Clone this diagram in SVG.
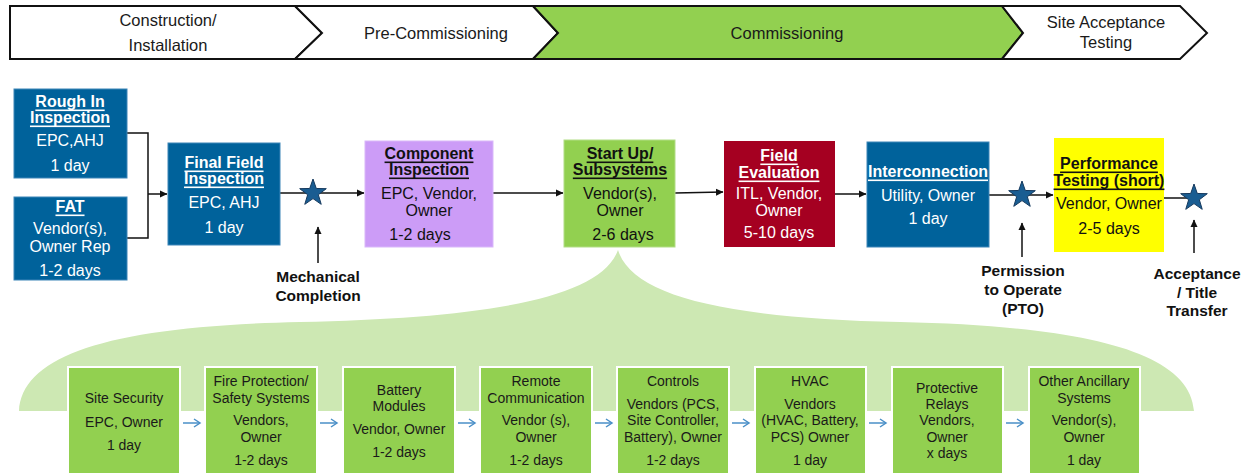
<svg xmlns="http://www.w3.org/2000/svg" width="1252" height="473" viewBox="0 0 1252 473">
<style>
text{font-family:"Liberation Sans",Arial,sans-serif;text-anchor:middle;dominant-baseline:central}
.ban{font-size:16.5px;fill:#1a1a1a}
.t{font-size:16px;font-weight:bold;text-decoration:underline}
.b{font-size:16px}
.w{fill:#ffffff}
.k{fill:#111111}
.ann{font-size:15.5px;font-weight:bold;fill:#111111}
.sm{font-size:14px;fill:#1a1a1a}
.conn{stroke:#111111;stroke-width:1.5;fill:none}
.sub{stroke:#4a8fc7;stroke-width:1.5;fill:none}
.sb{fill:#92d050;stroke:#ffffff;stroke-width:2}
</style>
<defs>
<marker id="ah" markerWidth="8" markerHeight="8" refX="7" refY="4" orient="auto" markerUnits="userSpaceOnUse">
<path d="M0,0.5 L7.5,4 L0,7.5 Z" fill="#111111"/>
</marker>
<marker id="oh" markerWidth="10" markerHeight="10" refX="7" refY="5" orient="auto" markerUnits="userSpaceOnUse">
<path d="M1,1 L7,5 L1,9" fill="none" stroke="#4a8fc7" stroke-width="1.5"/>
</marker>
<polygon id="star" points="0,-14 3.29,-4.53 13.31,-4.33 5.33,1.73 8.23,11.33 0,5.6 -8.23,11.33 -5.33,1.73 -13.31,-4.33 -3.29,-4.53" fill="#1a5d92" stroke="#163a5e" stroke-width="1"/>
</defs>

<g id="banner" stroke="#111111" stroke-width="2" stroke-linejoin="miter">
<polygon points="10,6 295,6 322,33 295,59 10,59" fill="#ffffff"/>
<polygon points="295,6 533,6 558,33 533,59 295,59 322,33" fill="#ffffff"/>
<polygon points="533,6 1002,6 1023,33 1002,59 533,59 558,33" fill="#92d050"/>
<polygon points="1002,6 1180,6 1207,33 1180,59 1002,59 1023,33" fill="#ffffff"/>
</g>
<g id="banner-text">
<text class="ban" x="168" y="20">Construction/</text>
<text class="ban" x="168" y="45">Installation</text>
<text class="ban" x="436" y="33">Pre-Commissioning</text>
<text class="ban" x="787" y="33">Commissioning</text>
<text class="ban" x="1106" y="22">Site Acceptance</text>
<text class="ban" x="1106" y="42">Testing</text>
</g>

<path id="lobe" d="M 19 411 C 22 355, 110 326, 300 322 C 480 318, 600 300, 618 250 C 632 295, 720 318, 900 322 C 1080 326, 1190 350, 1194 411 Z" fill="#cde8b3"/>

<g id="connectors">
<polyline class="conn" points="127,133 148,133 148,238 127,238"/>
<line class="conn" x1="148" y1="194" x2="167" y2="194" marker-end="url(#ah)"/>
<line class="conn" x1="280" y1="193" x2="364" y2="193" marker-end="url(#ah)"/>
<line class="conn" x1="493" y1="193" x2="563" y2="193" marker-end="url(#ah)"/>
<line class="conn" x1="675" y1="193" x2="723" y2="192" marker-end="url(#ah)"/>
<line class="conn" x1="835" y1="194" x2="866" y2="194" marker-end="url(#ah)"/>
<line class="conn" x1="989" y1="195" x2="1053" y2="195" marker-end="url(#ah)"/>
<line class="conn" x1="1164" y1="198" x2="1194" y2="198"/>
<line class="conn" x1="318" y1="263" x2="318" y2="227" marker-end="url(#ah)"/>
<line class="conn" x1="1022" y1="257" x2="1022" y2="223" marker-end="url(#ah)"/>
<line class="conn" x1="1194" y1="253" x2="1194" y2="220" marker-end="url(#ah)"/>
<line class="sub" x1="183" y1="423" x2="200" y2="423" marker-end="url(#oh)"/>
<line class="sub" x1="320" y1="423" x2="337" y2="423" marker-end="url(#oh)"/>
<line class="sub" x1="458" y1="423" x2="475" y2="423" marker-end="url(#oh)"/>
<line class="sub" x1="595" y1="423" x2="612" y2="423" marker-end="url(#oh)"/>
<line class="sub" x1="732" y1="423" x2="749" y2="423" marker-end="url(#oh)"/>
<line class="sub" x1="869" y1="423" x2="886" y2="423" marker-end="url(#oh)"/>
<line class="sub" x1="1006" y1="423" x2="1023" y2="423" marker-end="url(#oh)"/>
</g>

<g id="rough-in">
<rect x="14" y="89" width="113" height="89" fill="#00629b" stroke="#3c85b8" stroke-width="1"/>
<text class="t w" x="70" y="101">Rough In</text>
<text class="t w" x="70" y="117">Inspection</text>
<text class="b w" x="70" y="140">EPC,AHJ</text>
<text class="b w" x="70" y="165">1 day</text>
</g>
<g id="fat">
<rect x="14" y="197" width="113" height="83" fill="#00629b" stroke="#3c85b8" stroke-width="1"/>
<text class="t w" x="70" y="206">FAT</text>
<text class="b w" x="70" y="228">Vendor(s),</text>
<text class="b w" x="70" y="246">Owner Rep</text>
<text class="b w" x="70" y="270">1-2 days</text>
</g>
<g id="final-field">
<rect x="168" y="143" width="112" height="102" fill="#00629b" stroke="#3c85b8" stroke-width="1"/>
<text class="t w" x="224" y="162">Final Field</text>
<text class="t w" x="224" y="178">Inspection</text>
<text class="b w" x="224" y="202">EPC, AHJ</text>
<text class="b w" x="224" y="227">1 day</text>
</g>
<g id="mech-star"><use href="#star" x="313" y="193"/></g>
<g id="mech-label">
<text class="ann" x="318" y="276">Mechanical</text>
<text class="ann" x="318" y="295">Completion</text>
</g>
<g id="component">
<rect x="365" y="141" width="128" height="106" fill="#cc9cf7" stroke="#d9b8fa" stroke-width="1"/>
<text class="t k" x="429" y="153">Component</text>
<text class="t k" x="429" y="169">Inspection</text>
<text class="b k" x="429" y="193">EPC, Vendor,</text>
<text class="b k" x="429" y="210">Owner</text>
<text class="b k" x="420" y="234">1-2 days</text>
</g>
<g id="startup">
<rect x="564" y="140" width="111" height="107" fill="#92d050" stroke="#b2dd86" stroke-width="1"/>
<text class="t k" x="620" y="153">Start Up/</text>
<text class="t k" x="620" y="169">Subsystems</text>
<text class="b k" x="620" y="193">Vendor(s),</text>
<text class="b k" x="620" y="210">Owner</text>
<text class="b k" x="623" y="234">2-6 days</text>
</g>
<g id="field-eval">
<rect x="724" y="141" width="111" height="106" fill="#a50021"/>
<text class="t w" x="779" y="155">Field</text>
<text class="t w" x="779" y="172">Evaluation</text>
<text class="b w" x="779" y="193">ITL, Vendor,</text>
<text class="b w" x="779" y="210">Owner</text>
<text class="b w" x="779" y="232">5-10 days</text>
</g>
<g id="interconnection">
<rect x="867" y="142" width="122" height="105" fill="#00629b" stroke="#3c85b8" stroke-width="1"/>
<text class="t w" x="928" y="171">Interconnection</text>
<text class="b w" x="928" y="195">Utility, Owner</text>
<text class="b w" x="928" y="218">1 day</text>
</g>
<g id="pto-star"><use href="#star" x="1022" y="195"/></g>
<g id="pto-label">
<text class="ann" x="1023" y="270">Permission</text>
<text class="ann" x="1023" y="289">to Operate</text>
<text class="ann" x="1023" y="308">(PTO)</text>
</g>
<g id="performance">
<rect x="1054" y="138" width="110" height="114" fill="#ffff00"/>
<text class="t k" x="1109" y="163">Performance</text>
<text class="t k" x="1109" y="180">Testing (short)</text>
<text class="b k" x="1109" y="203">Vendor, Owner</text>
<text class="b k" x="1109" y="228">2-5 days</text>
</g>
<g id="accept-star"><use href="#star" x="1194" y="198"/></g>
<g id="accept-label">
<text class="ann" x="1197" y="273">Acceptance</text>
<text class="ann" x="1197" y="292">/ Title</text>
<text class="ann" x="1197" y="310">Transfer</text>
</g>

<g id="site-security">
<rect class="sb" x="68" y="367" width="112" height="112"/>
<text class="sm" x="124" y="398">Site Security</text>
<text class="sm" x="124" y="422">EPC, Owner</text>
<text class="sm" x="124" y="445">1 day</text>
</g>
<g id="fire-protection">
<rect class="sb" x="205" y="367" width="112" height="112"/>
<text class="sm" x="261" y="381">Fire Protection/</text>
<text class="sm" x="261" y="398">Safety Systems</text>
<text class="sm" x="261" y="420">Vendors,</text>
<text class="sm" x="261" y="437">Owner</text>
<text class="sm" x="261" y="460">1-2 days</text>
</g>
<g id="battery">
<rect class="sb" x="343" y="367" width="112" height="112"/>
<text class="sm" x="399" y="390">Battery</text>
<text class="sm" x="399" y="406">Modules</text>
<text class="sm" x="399" y="429">Vendor, Owner</text>
<text class="sm" x="399" y="452">1-2 days</text>
</g>
<g id="remote-comm">
<rect class="sb" x="480" y="367" width="112" height="112"/>
<text class="sm" x="536" y="381">Remote</text>
<text class="sm" x="536" y="398">Communication</text>
<text class="sm" x="536" y="420">Vendor (s),</text>
<text class="sm" x="536" y="437">Owner</text>
<text class="sm" x="536" y="460">1-2 days</text>
</g>
<g id="controls">
<rect class="sb" x="617" y="367" width="112" height="112"/>
<text class="sm" x="673" y="381">Controls</text>
<text class="sm" x="673" y="404">Vendors (PCS,</text>
<text class="sm" x="673" y="420">Site Controller,</text>
<text class="sm" x="673" y="437">Battery), Owner</text>
<text class="sm" x="673" y="460">1-2 days</text>
</g>
<g id="hvac">
<rect class="sb" x="755" y="367" width="111" height="112"/>
<text class="sm" x="810" y="381">HVAC</text>
<text class="sm" x="810" y="404">Vendors</text>
<text class="sm" x="810" y="420">(HVAC, Battery,</text>
<text class="sm" x="810" y="437">PCS) Owner</text>
<text class="sm" x="810" y="460">1 day</text>
</g>
<g id="protective-relays">
<rect class="sb" x="892" y="367" width="111" height="112"/>
<text class="sm" x="947" y="388">Protective</text>
<text class="sm" x="947" y="404">Relays</text>
<text class="sm" x="947" y="420">Vendors,</text>
<text class="sm" x="947" y="437">Owner</text>
<text class="sm" x="947" y="453">x days</text>
</g>
<g id="other-ancillary">
<rect class="sb" x="1029" y="367" width="111" height="112"/>
<text class="sm" x="1084" y="381">Other Ancillary</text>
<text class="sm" x="1084" y="398">Systems</text>
<text class="sm" x="1084" y="420">Vendor(s),</text>
<text class="sm" x="1084" y="437">Owner</text>
<text class="sm" x="1084" y="460">1 day</text>
</g>
</svg>
